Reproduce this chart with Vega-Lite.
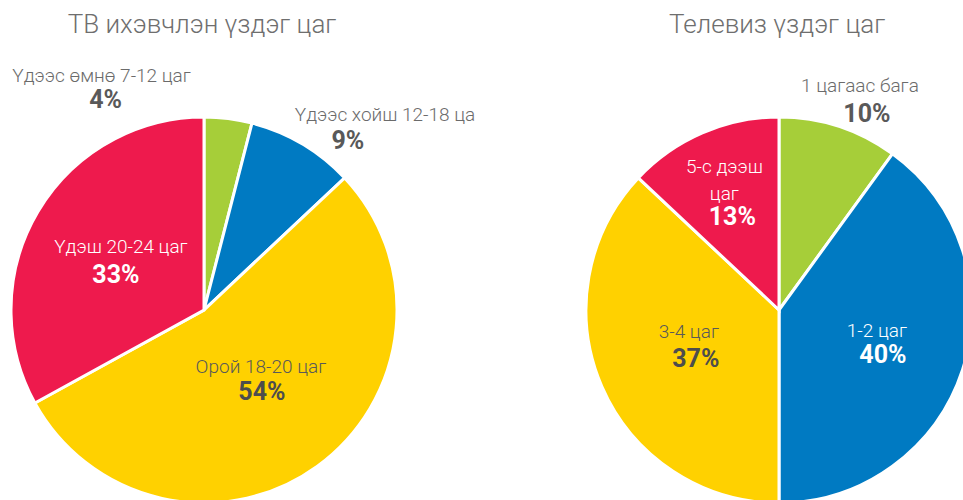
{
  "$schema": "https://vega.github.io/schema/vega-lite/v6.json",
  "width": 963,
  "height": 500,
  "autosize": {"type": "none"},
  "padding": 0,
  "background": "white",
  "config": {"view": {"stroke": null}, "text": {"font": "Roboto"}},
  "data": {
    "values": [
      {"chart": "ТВ ихэвчлэн үздэг цаг", "segment": "Үдээс өмнө 7-12 цаг", "pct": 0.04, "order": 1},
      {"chart": "ТВ ихэвчлэн үздэг цаг", "segment": "Үдээс хойш 12-18 цаг", "pct": 0.09, "order": 2},
      {"chart": "ТВ ихэвчлэн үздэг цаг", "segment": "Орой 18-20 цаг", "pct": 0.54, "order": 3},
      {"chart": "ТВ ихэвчлэн үздэг цаг", "segment": "Үдэш 20-24 цаг", "pct": 0.33, "order": 4},
      {"chart": "Телевиз үздэг цаг", "segment": "1 цагаас бага", "pct": 0.10, "order": 1},
      {"chart": "Телевиз үздэг цаг", "segment": "1-2 цаг", "pct": 0.40, "order": 2},
      {"chart": "Телевиз үздэг цаг", "segment": "3-4 цаг", "pct": 0.37, "order": 3},
      {"chart": "Телевиз үздэг цаг", "segment": "5-с дээш\nцаг", "pct": 0.13, "order": 4}
    ]
  },
  "layer": [
    {
      "transform": [{"aggregate": [{"op": "count", "as": "n"}], "groupby": ["chart"]}],
      "mark": {"type": "text", "font": "Roboto", "fontSize": 26, "fontWeight": 300, "color": "#6e6e6e", "baseline": "alphabetic", "align": "center", "dx": -2},
      "encoding": {
        "x": {"field": "chart", "type": "nominal", "scale": {"type": "point", "domain": ["ТВ ихэвчлэн үздэг цаг", "Телевиз үздэг цаг"], "range": [204, 779], "padding": 0}, "axis": null},
        "y": {"datum": "title", "type": "nominal", "scale": {"type": "point", "domain": ["title", "pie"], "range": [33, 310], "padding": 0}, "axis": null},
        "text": {"field": "chart"}
      }
    },
    {
      "transform": [{"filter": {"field": "chart", "equal": "ТВ ихэвчлэн үздэг цаг"}}],
      "encoding": {
        "x": {"field": "chart", "type": "nominal", "scale": {"type": "point", "domain": ["ТВ ихэвчлэн үздэг цаг", "Телевиз үздэг цаг"], "range": [204, 779], "padding": 0}, "axis": null},
        "y": {"datum": "pie", "type": "nominal", "scale": {"type": "point", "domain": ["title", "pie"], "range": [33, 310], "padding": 0}, "axis": null},
        "theta": {"field": "pct", "type": "quantitative", "stack": true},
        "order": {"field": "order", "type": "quantitative"}
      },
      "layer": [
        {
          "mark": {"type": "arc", "outerRadius": 193, "stroke": "white", "strokeWidth": 3},
          "encoding": {
            "color": {"field": "segment", "type": "nominal", "legend": null, "scale": {
              "domain": ["Үдээс өмнө 7-12 цаг", "Үдээс хойш 12-18 цаг", "Орой 18-20 цаг", "Үдэш 20-24 цаг", "1 цагаас бага", "1-2 цаг", "3-4 цаг", "5-с дээш\nцаг"],
              "range": ["#A6CE39", "#007AC2", "#FFD100", "#EE1A4D", "#A6CE39", "#007AC2", "#FFD100", "#EE1A4D"]}}
          }
        },
        {
          "mark": {"type": "text", "radius": 220, "dx": -130, "dy": -10, "fontSize": 19, "fontWeight": 300, "color": "#6b6b6b", "baseline": "alphabetic", "align": "center"},
          "encoding": {"text": {"condition": {"test": "datum.order == 1", "field": "segment"}, "value": ""}}
        },
        {
          "mark": {"type": "text", "radius": 220, "dx": -126, "dy": 16, "fontSize": 25, "fontWeight": "bold", "color": "#595959", "baseline": "alphabetic", "align": "center"},
          "encoding": {"text": {"condition": {"test": "datum.order == 1", "field": "pct", "type": "quantitative", "format": ".0%"}, "value": ""}}
        },
        {
          "mark": {"type": "text", "radius": 200, "dx": -11, "dy": -17, "fontSize": 19, "fontWeight": 300, "color": "#6b6b6b", "baseline": "alphabetic", "align": "left", "limit": 182, "ellipsis": "\u200b"},
          "encoding": {"text": {"condition": {"test": "datum.order == 2", "field": "segment"}, "value": ""}}
        },
        {
          "mark": {"type": "text", "radius": 200, "dx": 42, "dy": 11, "fontSize": 25, "fontWeight": "bold", "color": "#595959", "baseline": "alphabetic", "align": "center"},
          "encoding": {"text": {"condition": {"test": "datum.order == 2", "field": "pct", "type": "quantitative", "format": ".0%"}, "value": ""}}
        },
        {
          "mark": {"type": "text", "radius": 90, "dx": 4, "dy": -10, "fontSize": 19, "fontWeight": 300, "color": "#595959", "baseline": "alphabetic", "align": "center"},
          "encoding": {"text": {"condition": {"test": "datum.order == 3", "field": "segment"}, "value": ""}}
        },
        {
          "mark": {"type": "text", "radius": 90, "dx": 5, "dy": 17, "fontSize": 25, "fontWeight": "bold", "color": "#4d4d4d", "baseline": "alphabetic", "align": "center"},
          "encoding": {"text": {"condition": {"test": "datum.order == 3", "field": "pct", "type": "quantitative", "format": ".0%"}, "value": ""}}
        },
        {
          "mark": {"type": "text", "radius": 100, "dx": 3, "dy": -6, "fontSize": 19, "fontWeight": 300, "color": "white", "baseline": "alphabetic", "align": "center"},
          "encoding": {"text": {"condition": {"test": "datum.order == 4", "field": "segment"}, "value": ""}}
        },
        {
          "mark": {"type": "text", "radius": 100, "dx": -2, "dy": 24, "fontSize": 25, "fontWeight": "bold", "color": "white", "baseline": "alphabetic", "align": "center"},
          "encoding": {"text": {"condition": {"test": "datum.order == 4", "field": "pct", "type": "quantitative", "format": ".0%"}, "value": ""}}
        }
      ]
    },
    {
      "transform": [{"filter": {"field": "chart", "equal": "Телевиз үздэг цаг"}}],
      "encoding": {
        "x": {"field": "chart", "type": "nominal", "scale": {"type": "point", "domain": ["ТВ ихэвчлэн үздэг цаг", "Телевиз үздэг цаг"], "range": [204, 779], "padding": 0}, "axis": null},
        "y": {"datum": "pie", "type": "nominal", "scale": {"type": "point", "domain": ["title", "pie"], "range": [33, 310], "padding": 0}, "axis": null},
        "theta": {"field": "pct", "type": "quantitative", "stack": true},
        "order": {"field": "order", "type": "quantitative"}
      },
      "layer": [
        {
          "mark": {"type": "arc", "outerRadius": 193, "stroke": "white", "strokeWidth": 3},
          "encoding": {
            "color": {"field": "segment", "type": "nominal", "legend": null, "scale": {
              "domain": ["Үдээс өмнө 7-12 цаг", "Үдээс хойш 12-18 цаг", "Орой 18-20 цаг", "Үдэш 20-24 цаг", "1 цагаас бага", "1-2 цаг", "3-4 цаг", "5-с дээш\nцаг"],
              "range": ["#A6CE39", "#007AC2", "#FFD100", "#EE1A4D", "#A6CE39", "#007AC2", "#FFD100", "#EE1A4D"]}}
          }
        },
        {
          "mark": {"type": "text", "radius": 210, "dx": 16, "dy": -18, "fontSize": 19, "fontWeight": 300, "color": "#6b6b6b", "baseline": "alphabetic", "align": "center"},
          "encoding": {"text": {"condition": {"test": "datum.order == 1", "field": "segment"}, "value": ""}}
        },
        {
          "mark": {"type": "text", "radius": 210, "dx": 23, "dy": 12, "fontSize": 25, "fontWeight": "bold", "color": "#595959", "baseline": "alphabetic", "align": "center"},
          "encoding": {"text": {"condition": {"test": "datum.order == 1", "field": "pct", "type": "quantitative", "format": ".0%"}, "value": ""}}
        },
        {
          "mark": {"type": "text", "radius": 105, "dx": -2, "dy": -5, "fontSize": 19, "fontWeight": 300, "color": "white", "baseline": "alphabetic", "align": "center"},
          "encoding": {"text": {"condition": {"test": "datum.order == 2", "field": "segment"}, "value": ""}}
        },
        {
          "mark": {"type": "text", "radius": 105, "dx": 4, "dy": 21, "fontSize": 25, "fontWeight": "bold", "color": "white", "baseline": "alphabetic", "align": "center"},
          "encoding": {"text": {"condition": {"test": "datum.order == 2", "field": "pct", "type": "quantitative", "format": ".0%"}, "value": ""}}
        },
        {
          "mark": {"type": "text", "radius": 95, "dx": -3, "dy": -10, "fontSize": 19, "fontWeight": 300, "color": "#595959", "baseline": "alphabetic", "align": "center"},
          "encoding": {"text": {"condition": {"test": "datum.order == 3", "field": "segment"}, "value": ""}}
        },
        {
          "mark": {"type": "text", "radius": 95, "dx": 4, "dy": 19, "fontSize": 25, "fontWeight": "bold", "color": "#4d4d4d", "baseline": "alphabetic", "align": "center"},
          "encoding": {"text": {"condition": {"test": "datum.order == 3", "field": "pct", "type": "quantitative", "format": ".0%"}, "value": ""}}
        },
        {
          "mark": {"type": "text", "radius": 125, "dx": -5, "dy": -22, "fontSize": 19, "fontWeight": 300, "color": "white", "baseline": "alphabetic", "align": "center", "lineBreak": "\n", "lineHeight": 27},
          "encoding": {"text": {"condition": {"test": "datum.order == 4", "field": "segment"}, "value": ""}}
        },
        {
          "mark": {"type": "text", "radius": 125, "dx": 3, "dy": 30, "fontSize": 25, "fontWeight": "bold", "color": "white", "baseline": "alphabetic", "align": "center"},
          "encoding": {"text": {"condition": {"test": "datum.order == 4", "field": "pct", "type": "quantitative", "format": ".0%"}, "value": ""}}
        }
      ]
    }
  ]
}
